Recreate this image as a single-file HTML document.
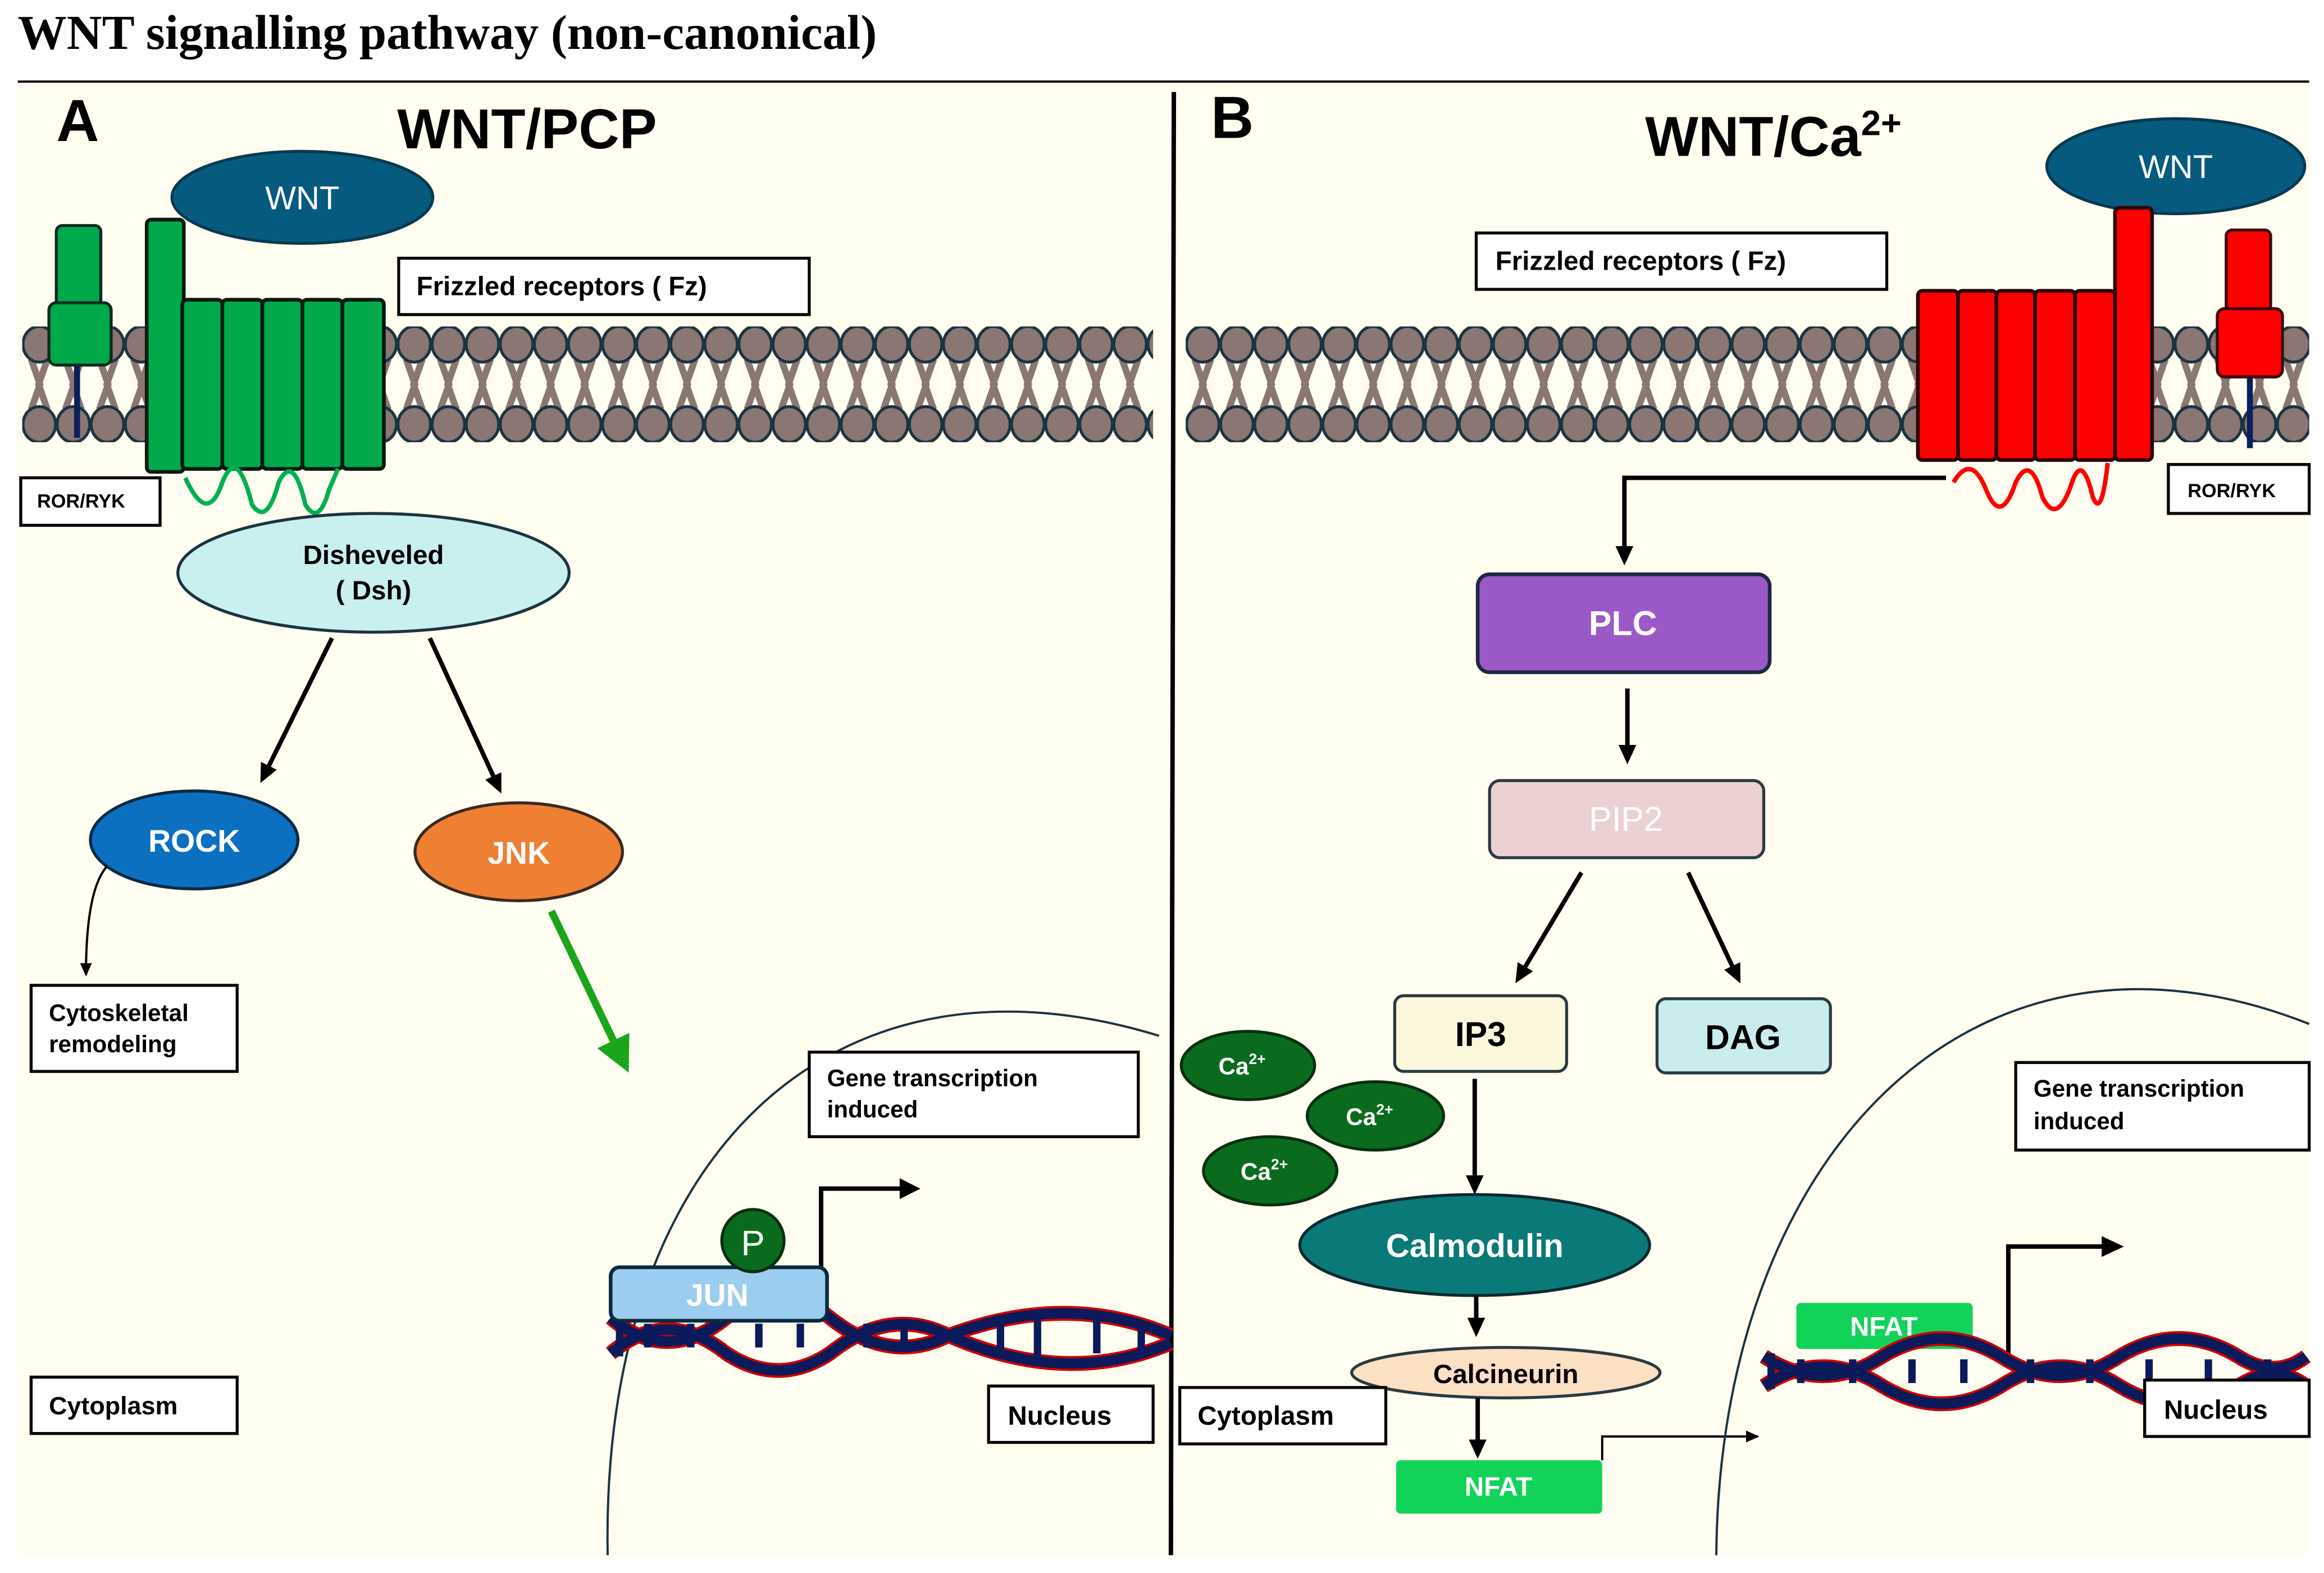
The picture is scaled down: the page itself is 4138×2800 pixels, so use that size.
<!DOCTYPE html>
<html><head><meta charset="utf-8"><style>
html,body{margin:0;padding:0;background:#fff}
svg{display:block}
text{font-family:"Liberation Sans",sans-serif;font-weight:bold}
</style></head><body>
<svg width="4138" height="2800" viewBox="0 0 1568 1060" preserveAspectRatio="none" xmlns="http://www.w3.org/2000/svg">
<defs>
<pattern id="lip" patternUnits="userSpaceOnUse" x="15" y="220" width="23" height="78">
<g stroke="#8a7673" stroke-width="4.5" fill="none">
<polyline points="6,22 12,39 6,56"/><polyline points="17,22 11,39 17,56"/>
</g>
<ellipse cx="11.5" cy="12" rx="11" ry="12" fill="#8a7673" stroke="#1c3340" stroke-width="2"/>
<ellipse cx="11.5" cy="66" rx="11" ry="12" fill="#8a7673" stroke="#1c3340" stroke-width="2"/>
</pattern>
<pattern id="lip2" patternUnits="userSpaceOnUse" x="800" y="220" width="23" height="78">
<g stroke="#8a7673" stroke-width="4.5" fill="none">
<polyline points="6,22 12,39 6,56"/><polyline points="17,22 11,39 17,56"/>
</g>
<ellipse cx="11.5" cy="12" rx="11" ry="12" fill="#8a7673" stroke="#1c3340" stroke-width="2"/>
<ellipse cx="11.5" cy="66" rx="11" ry="12" fill="#8a7673" stroke="#1c3340" stroke-width="2"/>
</pattern>
<marker id="ah" markerWidth="14" markerHeight="14" refX="10" refY="7" orient="auto" markerUnits="userSpaceOnUse"><path d="M0,1 L13,7 L0,13 z" fill="#000"/></marker>
<marker id="ahs" markerWidth="10" markerHeight="10" refX="8" refY="5" orient="auto" markerUnits="userSpaceOnUse"><path d="M0,1 L9,5 L0,9 z" fill="#000"/></marker>
<marker id="ahg" markerWidth="24" markerHeight="24" refX="12" refY="12" orient="auto" markerUnits="userSpaceOnUse"><path d="M0,0 L24,12 L0,24 z" fill="#1aa51a"/></marker>
</defs>
<text x="12" y="33" font-size="33" style="font-family:'Liberation Serif',serif">WNT signalling pathway (non-canonical)</text>
<line x1="12" y1="55" x2="1558" y2="55" stroke="#000" stroke-width="1.5"/>
<rect x="12" y="56" width="1546" height="992" fill="#fffef0"/>
<line x1="792" y1="62" x2="790" y2="1048" stroke="#000" stroke-width="3"/>

<!-- Panel A -->
<text x="38" y="95" font-size="40">A</text>
<text x="268" y="100" font-size="38">WNT/PCP</text>
<rect x="15" y="220" width="763" height="78" fill="url(#lip)"/>
<ellipse cx="204" cy="133" rx="88" ry="31" fill="#065a7e" stroke="#083a50" stroke-width="2"/>
<text x="204" y="141" font-size="22" fill="#fff" text-anchor="middle" style="font-weight:normal">WNT</text>
<line x1="52" y1="244" x2="52" y2="295" stroke="#0b1f5a" stroke-width="4"/>
<rect x="38" y="152" width="30" height="55" rx="4" fill="#00a94a" stroke="#0a2a20" stroke-width="2"/>
<rect x="33" y="204" width="42" height="42" rx="5" fill="#00a94a" stroke="#0a2a20" stroke-width="2"/>
<g fill="#00a94a" stroke="#0a1a10" stroke-width="2.5">
<rect x="99" y="148" width="25" height="170" rx="3"/>
<rect x="123" y="202" width="27" height="114" rx="3"/>
<rect x="150" y="202" width="27" height="114" rx="3"/>
<rect x="177" y="202" width="27" height="114" rx="3"/>
<rect x="204" y="202" width="27" height="114" rx="3"/>
<rect x="231" y="202" width="28" height="114" rx="3"/>
</g>
<path d="M125,322 Q140,355 150,325 Q160,300 170,340 Q180,355 188,325 Q198,305 206,340 Q215,355 222,330 L228,316" fill="none" stroke="#00b050" stroke-width="3"/>
<rect x="269" y="174" width="277" height="38" fill="#fff" stroke="#000" stroke-width="2"/>
<text x="281" y="199" font-size="18">Frizzled receptors ( Fz)</text>
<rect x="14" y="322" width="94" height="32" fill="#fff" stroke="#000" stroke-width="2"/>
<text x="25" y="342" font-size="13">ROR/RYK</text>
<ellipse cx="252" cy="386" rx="132" ry="40" fill="#c9f0ee" stroke="#1c3340" stroke-width="2"/>
<text x="252" y="380" font-size="18" text-anchor="middle">Disheveled</text>
<text x="252" y="404" font-size="18" text-anchor="middle">( Dsh)</text>
<line x1="224" y1="430" x2="177" y2="525" stroke="#000" stroke-width="3" marker-end="url(#ah)"/>
<line x1="290" y1="430" x2="337" y2="532" stroke="#000" stroke-width="3" marker-end="url(#ah)"/>
<ellipse cx="131" cy="566" rx="70" ry="33" fill="#0b70c0" stroke="#0a2a40" stroke-width="2"/>
<text x="131" y="574" font-size="21" fill="#fff" text-anchor="middle">ROCK</text>
<ellipse cx="350" cy="574" rx="70" ry="33" fill="#ee7f33" stroke="#3a2a20" stroke-width="2"/>
<text x="350" y="582" font-size="21" fill="#fff" text-anchor="middle">JNK</text>
<path d="M72,584 Q58,600 58,657" fill="none" stroke="#000" stroke-width="1.5" marker-end="url(#ahs)"/>
<rect x="21" y="664" width="139" height="58" fill="#fff" stroke="#000" stroke-width="2"/>
<text x="33" y="688" font-size="16">Cytoskeletal</text>
<text x="33" y="709" font-size="16">remodeling</text>
<line x1="372" y1="614" x2="419" y2="712" stroke="#1aa51a" stroke-width="5" marker-end="url(#ahg)"/>
<path d="M410,1048 C405,780 560,630 782,698" fill="none" stroke="#1c3340" stroke-width="1.5"/>
<rect x="546" y="709" width="222" height="57" fill="#fff" stroke="#000" stroke-width="2"/>
<text x="558" y="732" font-size="16">Gene transcription</text>
<text x="558" y="753" font-size="16">induced</text>
<polyline points="554,856 554,801 610,801" fill="none" stroke="#000" stroke-width="3"/>
<path d="M607,794 L621,801 L607,808 z" fill="#000"/>
<g>
<path d="M412,888 Q450,920 490,888 Q525,860 560,888 Q600,920 640,900 Q720,870 790,900" fill="none" stroke="#c00" stroke-width="10"/>
<path d="M412,912 Q450,880 490,912 Q525,935 560,912 Q600,880 640,900 Q720,935 790,905" fill="none" stroke="#c00" stroke-width="10"/>
<path d="M412,888 Q450,920 490,888 Q525,860 560,888 Q600,920 640,900 Q720,870 790,900" fill="none" stroke="#0b1a5a" stroke-width="7"/>
<path d="M412,912 Q450,880 490,912 Q525,935 560,912 Q600,880 640,900 Q720,935 790,905" fill="none" stroke="#0b1a5a" stroke-width="7"/>
<g stroke="#0b1a5a" stroke-width="5"><line x1="418" y1="886" x2="418" y2="914"/><line x1="437" y1="892" x2="437" y2="908"/><line x1="466" y1="892" x2="466" y2="908"/><line x1="512" y1="892" x2="512" y2="908"/><line x1="540" y1="892" x2="540" y2="908"/><line x1="585" y1="892" x2="585" y2="908"/><line x1="610" y1="892" x2="610" y2="908"/><line x1="675" y1="886" x2="675" y2="914"/><line x1="700" y1="886" x2="700" y2="914"/><line x1="740" y1="888" x2="740" y2="912"/><line x1="770" y1="892" x2="770" y2="910"/></g>
</g>
<rect x="412" y="854" width="146" height="36" rx="6" fill="#9dcdee" stroke="#0a2a40" stroke-width="2.5"/>
<text x="484" y="880" font-size="21" fill="#fff" text-anchor="middle">JUN</text>
<ellipse cx="508" cy="836" rx="21" ry="21" fill="#0a6b1e" stroke="#083010" stroke-width="2"/>
<text x="508" y="846" font-size="24" fill="#fff" text-anchor="middle" style="font-weight:normal">P</text>
<rect x="21" y="928" width="139" height="38" fill="#fff" stroke="#000" stroke-width="2"/>
<text x="33" y="953" font-size="17">Cytoplasm</text>
<rect x="667" y="934" width="111" height="38" fill="#fff" stroke="#000" stroke-width="2"/>
<text x="680" y="960" font-size="18">Nucleus</text>

<!-- Panel B -->
<text x="817" y="93" font-size="40">B</text>
<text x="1110" y="105" font-size="38">WNT/Ca<tspan font-size="24" dy="-14">2+</tspan></text>
<rect x="800" y="220" width="758" height="78" fill="url(#lip2)"/>
<ellipse cx="1468" cy="112" rx="87" ry="32" fill="#065a7e" stroke="#083a50" stroke-width="2"/>
<text x="1468" y="120" font-size="22" fill="#fff" text-anchor="middle" style="font-weight:normal">WNT</text>
<line x1="1518" y1="254" x2="1518" y2="302" stroke="#0b1f5a" stroke-width="4"/>
<rect x="1502" y="155" width="30" height="55" rx="4" fill="#f00" stroke="#3a0a0a" stroke-width="2"/>
<rect x="1496" y="208" width="44" height="46" rx="5" fill="#f00" stroke="#3a0a0a" stroke-width="2"/>
<g fill="#f00" stroke="#2a0505" stroke-width="2.5">
<rect x="1294" y="196" width="27" height="114" rx="3"/>
<rect x="1321" y="196" width="26" height="114" rx="3"/>
<rect x="1347" y="196" width="26" height="114" rx="3"/>
<rect x="1373" y="196" width="27" height="114" rx="3"/>
<rect x="1400" y="196" width="27" height="114" rx="3"/>
<rect x="1427" y="140" width="25" height="170" rx="3"/>
</g>
<path d="M1318,325 Q1330,305 1340,330 Q1350,355 1360,325 Q1370,305 1378,335 Q1388,355 1398,325 Q1405,305 1412,335 Q1418,350 1422,312" fill="none" stroke="#f00" stroke-width="3"/>
<rect x="996" y="157" width="277" height="38" fill="#fff" stroke="#000" stroke-width="2"/>
<text x="1009" y="182" font-size="18">Frizzled receptors ( Fz)</text>
<rect x="1463" y="313" width="95" height="33" fill="#fff" stroke="#000" stroke-width="2"/>
<text x="1476" y="335" font-size="13">ROR/RYK</text>
<polyline points="1313,322 1096,322 1096,378" fill="none" stroke="#000" stroke-width="3" marker-end="url(#ah)"/>
<rect x="997" y="387" width="197" height="66" rx="8" fill="#9b59c6" stroke="#1c2840" stroke-width="2.5"/>
<text x="1095" y="428" font-size="23" fill="#fff" text-anchor="middle">PLC</text>
<line x1="1098" y1="464" x2="1098" y2="512" stroke="#000" stroke-width="3" marker-end="url(#ah)"/>
<rect x="1005" y="526" width="185" height="52" rx="7" fill="#ecd1d3" stroke="#2a3a40" stroke-width="2"/>
<text x="1097" y="560" font-size="23" fill="#fff" text-anchor="middle" style="font-weight:normal">PIP2</text>
<line x1="1067" y1="588" x2="1024" y2="660" stroke="#000" stroke-width="3" marker-end="url(#ah)"/>
<line x1="1139" y1="588" x2="1173" y2="660" stroke="#000" stroke-width="3" marker-end="url(#ah)"/>
<rect x="941" y="671" width="116" height="51" rx="6" fill="#faf7dc" stroke="#2a3a40" stroke-width="2"/>
<text x="999" y="705" font-size="23" text-anchor="middle">IP3</text>
<rect x="1118" y="673" width="117" height="50" rx="6" fill="#c9ecec" stroke="#2a3a40" stroke-width="2"/>
<text x="1176" y="707" font-size="23" text-anchor="middle">DAG</text>
<g fill="#0a6b1e" stroke="#083010" stroke-width="2">
<ellipse cx="842" cy="718" rx="45" ry="23"/><ellipse cx="928" cy="752" rx="46" ry="23"/><ellipse cx="857" cy="789" rx="45" ry="23"/>
</g>
<g fill="#fff" font-size="16" text-anchor="middle">
<text x="838" y="724">Ca<tspan font-size="10" dy="-7">2+</tspan></text>
<text x="924" y="758">Ca<tspan font-size="10" dy="-7">2+</tspan></text>
<text x="853" y="795">Ca<tspan font-size="10" dy="-7">2+</tspan></text>
</g>
<line x1="995" y1="727" x2="995" y2="802" stroke="#000" stroke-width="3" marker-end="url(#ah)"/>
<ellipse cx="995" cy="839" rx="118" ry="34" fill="#0a7a78" stroke="#0a2a30" stroke-width="2"/>
<text x="995" y="847" font-size="22" fill="#fff" text-anchor="middle">Calmodulin</text>
<line x1="996" y1="873" x2="996" y2="898" stroke="#000" stroke-width="3" marker-end="url(#ah)"/>
<ellipse cx="1016" cy="925" rx="104" ry="17" fill="#fbe0c4" stroke="#2a3a40" stroke-width="2"/>
<text x="1016" y="932" font-size="18" text-anchor="middle">Calcineurin</text>
<line x1="997" y1="942" x2="997" y2="980" stroke="#000" stroke-width="3" marker-end="url(#ah)"/>
<rect x="942" y="984" width="139" height="36" rx="3" fill="#12d35a"/>
<text x="1011" y="1008" font-size="18" fill="#fff" text-anchor="middle">NFAT</text>
<polyline points="1081,984 1081,968 1186,968" fill="none" stroke="#000" stroke-width="1.5" marker-end="url(#ahs)"/>
<rect x="796" y="935" width="139" height="38" fill="#fff" stroke="#000" stroke-width="2"/>
<text x="808" y="960" font-size="18">Cytoplasm</text>
<path d="M1158,1048 C1160,780 1330,600 1558,690" fill="none" stroke="#1c3340" stroke-width="1.5"/>
<rect x="1360" y="716" width="198" height="59" fill="#fff" stroke="#000" stroke-width="2"/>
<text x="1372" y="739" font-size="16">Gene  transcription</text>
<text x="1372" y="761" font-size="16">induced</text>
<rect x="1212" y="878" width="119" height="31" rx="3" fill="#12d35a"/>
<text x="1271" y="900" font-size="18" fill="#fff" text-anchor="middle">NFAT</text>
<polyline points="1355,912 1355,840 1420,840" fill="none" stroke="#000" stroke-width="3"/>
<path d="M1418,833 L1433,840 L1418,847 z" fill="#000"/>
<g>
<path d="M1190,914 Q1230,940 1270,914 Q1310,890 1350,914 Q1390,940 1430,914 Q1470,890 1510,914 Q1535,930 1556,914" fill="none" stroke="#c00" stroke-width="10"/>
<path d="M1190,934 Q1230,908 1270,934 Q1310,958 1350,934 Q1390,908 1430,934 Q1470,958 1510,934 Q1535,918 1556,934" fill="none" stroke="#c00" stroke-width="10"/>
<path d="M1190,914 Q1230,940 1270,914 Q1310,890 1350,914 Q1390,940 1430,914 Q1470,890 1510,914 Q1535,930 1556,914" fill="none" stroke="#0b1a5a" stroke-width="7"/>
<path d="M1190,934 Q1230,908 1270,934 Q1310,958 1350,934 Q1390,908 1430,934 Q1470,958 1510,934 Q1535,918 1556,934" fill="none" stroke="#0b1a5a" stroke-width="7"/>
<g stroke="#0b1a5a" stroke-width="5"><line x1="1195" y1="912" x2="1195" y2="936"/><line x1="1215" y1="916" x2="1215" y2="932"/><line x1="1250" y1="916" x2="1250" y2="932"/><line x1="1290" y1="916" x2="1290" y2="932"/><line x1="1325" y1="916" x2="1325" y2="932"/><line x1="1370" y1="916" x2="1370" y2="932"/><line x1="1410" y1="916" x2="1410" y2="932"/><line x1="1450" y1="916" x2="1450" y2="932"/><line x1="1490" y1="916" x2="1490" y2="932"/><line x1="1530" y1="916" x2="1530" y2="932"/></g>
</g>
<rect x="1447" y="930" width="111" height="38" fill="#fff" stroke="#000" stroke-width="2"/>
<text x="1460" y="956" font-size="18">Nucleus</text>
</svg>
</body></html>
